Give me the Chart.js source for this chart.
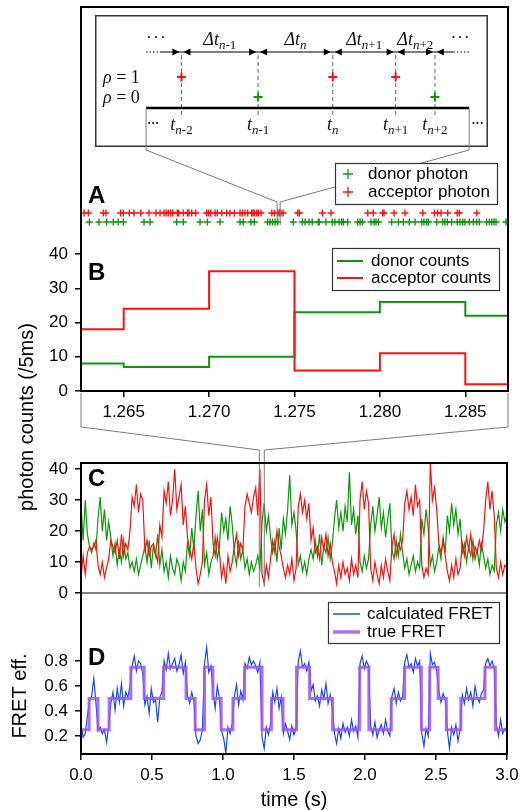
<!DOCTYPE html>
<html>
<head>
<meta charset="utf-8">
<script src="https://cdn.jsdelivr.net/npm/chart.js@4.4.1/dist/chart.umd.min.js"></script>
<style>
  body { margin: 0; background: #fff; }
  #wrap { position: relative; width: 525px; height: 810px; overflow: hidden; background: #fff; }
  canvas { position: absolute; }
</style>
</head>
<body>
<div id="wrap">
  <canvas id="cInset" width="393" height="132" style="left:95px;top:15px"></canvas>
  <canvas id="cA" width="525" height="85" style="left:0;top:150px"></canvas>
  <canvas id="cB" width="525" height="208" style="left:0;top:222px"></canvas>
  <canvas id="cC" width="525" height="166" style="left:0;top:445px"></canvas>
  <canvas id="cD" width="525" height="235" style="left:0;top:575px"></canvas>
  <canvas id="over" width="525" height="810" style="left:0;top:0;z-index:5"></canvas>
</div>
<script>
// ---------- data ----------
const binWidth = 0.015; // s per point in C and D

const donorTrace = [
  28, 17, 30, 19, 15, 13, 16, 14, 24, 31, 20, 27, 17, 23,
  18, 12, 16, 9, 14, 10, 17, 11, 13, 8, 10, 7, 11, 6, 9, 12,
  15, 10, 17, 8, 15, 12, 19, 9, 14, 7, 10, 5, 12, 8, 6, 11, 9, 4, 10, 7,
  16, 12, 21, 14, 25, 33, 20, 27, 9, 13, 6, 10, 12, 18, 11, 15,
  26, 20, 24, 17, 28, 22, 13, 9, 17, 11, 14, 8, 11, 6, 10, 7, 9, 12, 8,
  23, 29, 20, 25, 18, 13, 17, 10, 21, 14, 24, 19, 27, 38, 22, 26, 20,
  9, 12, 7, 10, 6, 11, 14, 11, 17, 12, 19, 9, 15, 13, 18, 11, 16,
  24, 30, 21, 26, 20, 28, 23, 39, 22, 27, 19, 25, 10, 7, 12, 8, 11,
  22, 28, 20, 25, 31, 21, 26, 18, 24, 29, 14, 11, 17, 12, 19, 13,
  8, 11, 6, 9, 12, 7, 10, 8, 24, 19, 27, 21, 9, 12, 7, 10, 15, 11, 18, 13,
  25, 20, 29, 22, 27, 19, 24, 13, 16, 10, 15, 12, 17, 11, 14, 9, 16, 12,
  8, 11, 6, 9, 7, 22, 26, 20, 27, 23, 25
];
const acceptorTrace = [
  5, 12, 6, 13, 15, 14, 15, 17, 9, 6, 10, 5, 8, 11,
  17, 15, 13, 17, 11, 19, 12, 16, 14, 20, 31, 28, 35, 26, 32, 30,
  14, 17, 12, 15, 16, 13, 10, 22, 18, 33, 29, 36, 25, 30, 40, 27, 31, 35, 22, 28,
  18, 14, 11, 16, 8, 3, 6, 10, 30, 35, 25, 31, 16, 12, 18, 13,
  5, 9, 3, 12, 7, 10, 15, 19, 12, 16, 14, 28, 32, 29, 26, 31, 34, 25, 40,
  6, 3, 9, 5, 11, 17, 13, 20, 15, 12, 8, 5, 9, 6, 11, 4, 8,
  28, 32, 26, 30, 24, 29, 17, 21, 13, 15, 11, 18, 14, 19, 12, 16, 10,
  7, 3, 9, 5, 10, 6, 8, 4, 11, 6, 9, 5, 30, 36, 27, 33, 29,
  8, 4, 10, 6, 3, 9, 5, 11, 7, 4, 15, 19, 12, 16, 14, 17,
  29, 33, 27, 31, 25, 35, 28, 30, 9, 5, 8, 6, 42, 30, 34, 27, 16, 13, 17, 12,
  7, 4, 9, 5, 11, 6, 8, 16, 12, 18, 14, 19, 11, 15, 13, 17, 14, 20,
  30, 36, 27, 33, 25, 8, 5, 10, 6, 9, 8
];
const calcFret = [
  0.30, 0.19, 0.22, 0.36, 0.48, 0.52, 0.66, 0.47, 0.24, 0.27, 0.22, 0.25, 0.15, 0.28,
  0.46, 0.55, 0.41, 0.58, 0.47, 0.62, 0.44, 0.55, 0.51, 0.60, 0.76, 0.84, 0.72, 0.80, 0.78, 0.70,
  0.45, 0.52, 0.38, 0.58, 0.47, 0.49, 0.31, 0.51, 0.55, 0.80, 0.73, 0.86, 0.74, 0.78, 0.82, 0.72, 0.77, 0.85, 0.70, 0.79,
  0.52, 0.46, 0.55, 0.48, 0.20, 0.14, 0.17, 0.25, 0.78, 0.91, 0.71, 0.76, 0.55, 0.42, 0.60, 0.50,
  0.24, 0.18, 0.06, 0.27, 0.22, 0.30, 0.52, 0.61, 0.45, 0.56, 0.49, 0.78, 0.74, 0.83, 0.77, 0.80, 0.76, 0.71, 0.79,
  0.19, 0.10, 0.27, 0.21, 0.30, 0.55, 0.47, 0.58, 0.42, 0.51, 0.22, 0.30, 0.24, 0.17, 0.28, 0.21, 0.26,
  0.80, 0.88, 0.75, 0.78, 0.72, 0.79, 0.56, 0.61, 0.48, 0.52, 0.44, 0.57, 0.50, 0.62, 0.46, 0.53, 0.43,
  0.22, 0.14, 0.26, 0.18, 0.30, 0.23, 0.27, 0.20, 0.33, 0.24, 0.28, 0.19, 0.78, 0.84, 0.74, 0.80, 0.76,
  0.28, 0.21, 0.31, 0.19, 0.25, 0.29, 0.22, 0.33, 0.24, 0.20, 0.52, 0.58, 0.46, 0.55, 0.48, 0.51,
  0.79, 0.85, 0.75, 0.78, 0.71, 0.82, 0.76, 0.80, 0.22, 0.12, 0.26, 0.20, 0.86, 0.77, 0.79, 0.72,
  0.56, 0.47, 0.54, 0.49, 0.24, 0.10, 0.27, 0.21, 0.29, 0.16, 0.25,
  0.53, 0.46, 0.58, 0.49, 0.55, 0.44, 0.60, 0.51, 0.47, 0.54, 0.57,
  0.78, 0.82, 0.76, 0.80, 0.74, 0.29, 0.20, 0.33, 0.22, 0.26, 0.24
];

const trueFretStart = [0, 0.057, 0.12, 0.198, 0.351, 0.445, 0.582, 0.74, 0.804, 0.87, 0.929,
  0.987, 1.07, 1.152, 1.275, 1.341, 1.423, 1.518, 1.61, 1.772, 1.963, 2.027, 2.185, 2.279,
  2.397, 2.456, 2.515, 2.573, 2.675, 2.845, 2.918];
const trueFretLevel = [0.25, 0.5, 0.25, 0.5, 0.75, 0.5, 0.75, 0.5, 0.25, 0.75, 0.5,
  0.25, 0.5, 0.75, 0.25, 0.5, 0.25, 0.75, 0.5, 0.25, 0.75, 0.25, 0.5, 0.75,
  0.25, 0.75, 0.5, 0.25, 0.5, 0.75, 0.25];
const traceEnd = 3.0;

const binStartsB = [1.260, 1.265, 1.270, 1.275, 1.280, 1.285];
const binEndB = 1.290;
const donorCountsB = [8, 7, 10, 23, 26, 22];
const acceptorCountsB = [18, 24, 35, 6, 11, 2];

const acceptorPhotonsMs = [1262.68, 1262.93, 1263.81, 1263.96, 1264.82, 1264.98, 1265.33, 1265.60,
  1266.00, 1266.48, 1266.89, 1267.13, 1267.36, 1267.48, 1267.61, 1267.75, 1267.87, 1268.14, 1268.22,
  1268.49, 1268.73, 1268.82, 1268.98, 1269.22, 1269.86, 1269.96, 1270.09, 1270.35, 1270.48, 1270.74,
  1271.03, 1271.22, 1271.48, 1271.81, 1271.95, 1272.10, 1272.26, 1272.49, 1272.57, 1272.65, 1272.79,
  1272.88, 1273.04, 1273.67, 1273.82, 1274.02, 1274.11, 1274.21, 1274.33, 1275.19, 1275.28, 1276.63,
  1277.14, 1279.29, 1279.61, 1280.16, 1280.24, 1280.83, 1281.47, 1282.51, 1283.19, 1283.38, 1283.58,
  1283.97, 1284.53, 1284.65, 1285.67];
const donorPhotonsMs = [1262.99, 1263.55, 1264.00, 1264.39, 1264.68, 1264.98, 1266.19, 1266.54,
  1268.10, 1268.49, 1269.47, 1269.90, 1270.64, 1271.81, 1272.00, 1272.45, 1272.65, 1273.43, 1273.57,
  1273.72, 1273.86, 1274.02, 1274.93, 1275.46, 1275.62, 1275.85, 1276.04, 1276.39, 1276.45, 1276.84,
  1277.21, 1277.37, 1277.61, 1277.76, 1277.86, 1278.11, 1278.70, 1278.84, 1278.97, 1279.48, 1279.66,
  1279.77, 1279.91, 1280.69, 1281.08, 1281.37, 1281.72, 1282.06, 1282.45, 1282.58, 1282.74, 1282.84,
  1283.33, 1283.68, 1283.81, 1283.95, 1284.20, 1284.53, 1284.69, 1284.85, 1284.98, 1285.23, 1285.47,
  1285.67, 1285.82, 1286.25, 1286.41, 1286.55, 1286.68, 1286.80, 1287.38];

// schematic photon stream of the inset
const insetTimes = [2.2, 4.15, 6.05, 7.65, 8.65];
const insetRho = [1, 0, 1, 1, 0];
const insetTimeSub = ['n-2', 'n-1', 'n', 'n+1', 'n+2'];
const insetGapSub = ['n-1', 'n', 'n+1', 'n+2'];
const insetLineEnds = [1.3, 9.52];

const zoomWindowA = [1273.98, 1274.16]; // ms, marked on A
const zoomWindowC = [1.2556, 1.2908];   // s, marked on C

const ticksBx = [1.265, 1.270, 1.275, 1.280, 1.285];
const ticksCounts = [0, 10, 20, 30, 40];
const ticksFret = [0.2, 0.4, 0.6, 0.8];
const ticksTime = [0, 0.5, 1.0, 1.5, 2.0, 2.5, 3.0];

// ---------- style ----------
const GREEN = '#0b990b';
const RED = '#ff1010';
const BLUE = '#1846ff';
const PURPLE = 'rgba(160, 85, 238, 0.85)';
const GRAY = '#7a7a7a';
const SANS = '"Liberation Sans", Arial, sans-serif';
const SERIF = '"Liberation Serif", "Times New Roman", serif';

Chart.defaults.font.family = SANS;
Chart.defaults.font.size = 17;
Chart.defaults.color = '#000';

const baseOpts = {
  responsive: false,
  animation: false,
  events: [],
  plugins: { legend: { display: false }, tooltip: { enabled: false } }
};

function tickGrid() {
  return { display: true, drawOnChartArea: false, drawTicks: true, tickLength: 6, color: '#000', lineWidth: 1.5 };
}
function fixTicks(values) {
  return scale => { scale.ticks = values.map(v => ({ value: v })); };
}
const series = arr => arr.map((v, i) => ({ x: i * binWidth, y: v }));
const steps = (starts, vals, end) =>
  starts.map((t, i) => ({ x: t, y: vals[i] })).concat({ x: end, y: vals[vals.length - 1] });

// ---------- inset ----------
function richText(ctx, parts, cx, y) {
  let w = 0;
  parts.forEach(p => { ctx.font = p[1]; p.w = ctx.measureText(p[0]).width; w += p.w; });
  let xx = cx - w / 2;
  ctx.textAlign = 'left';
  ctx.textBaseline = 'alphabetic';
  parts.forEach(p => { ctx.font = p[1]; ctx.fillText(p[0], xx, y + p[2]); xx += p.w; });
}
function subParts(sub) {
  const parts = [['n', 'italic 13px ' + SERIF, 4]];
  if (sub.length > 1) parts.push([sub.slice(1), '13px ' + SERIF, 4]);
  return parts;
}
function arrowHead(ctx, x, y, dir) {
  ctx.beginPath();
  ctx.moveTo(x, y);
  ctx.lineTo(x - dir * 7, y - 3.5);
  ctx.lineTo(x - dir * 7, y + 3.5);
  ctx.closePath();
  ctx.fill();
}
function dots(ctx, xs, y) {
  xs.forEach(px => { ctx.beginPath(); ctx.arc(px, y, 1.1, 0, Math.PI * 2); ctx.fill(); });
}

const insetDecor = {
  id: 'insetDecor',
  beforeDatasetsDraw(chart) {
    const { ctx, chartArea: a, scales: { x, y } } = chart;
    const xs = insetTimes.map(t => x.getPixelForValue(t));
    const yArrow = y.getPixelForValue(2.25);
    const yBase = y.getPixelForValue(-0.55);
    ctx.save();
    ctx.strokeStyle = '#333';
    ctx.lineWidth = 1.5;
    ctx.strokeRect(a.left + 0.75, a.top + 0.75, a.width - 1.5, a.height - 1.5);

    // dashed guides
    ctx.setLineDash([4, 3]);
    ctx.strokeStyle = '#666';
    ctx.lineWidth = 1;
    xs.forEach(px => {
      ctx.beginPath(); ctx.moveTo(px, yArrow + 3); ctx.lineTo(px, y.getPixelForValue(-0.9)); ctx.stroke();
    });

    // interval arrows
    const xl0 = x.getPixelForValue(insetLineEnds[0]);
    const xl1 = x.getPixelForValue(insetLineEnds[1]);
    const xd0 = x.getPixelForValue(1.65);
    const xd1 = x.getPixelForValue(9.12);
    ctx.strokeStyle = '#000';
    ctx.setLineDash([1.5, 2]);
    ctx.beginPath(); ctx.moveTo(xl0, yArrow); ctx.lineTo(xd0, yArrow);
    ctx.moveTo(xd1, yArrow); ctx.lineTo(xl1, yArrow); ctx.stroke();
    ctx.setLineDash([]);
    ctx.lineWidth = 1.2;
    ctx.beginPath(); ctx.moveTo(xd0, yArrow); ctx.lineTo(xd1, yArrow); ctx.stroke();
    ctx.fillStyle = '#000';
    xs.forEach(px => { arrowHead(ctx, px - 2, yArrow, 1); arrowHead(ctx, px + 2, yArrow, -1); });

    // gap labels
    ctx.fillStyle = '#111';
    insetGapSub.forEach((s, i) => {
      const cx = (xs[i] + xs[i + 1]) / 2;
      richText(ctx, [['\u0394t', 'italic 18px ' + SERIF, 0]].concat(subParts(s)), cx, y.getPixelForValue(2.6));
    });
    dots(ctx, [1.37, 1.55, 1.73].map(v => x.getPixelForValue(v)), y.getPixelForValue(3.0));
    dots(ctx, [9.12, 9.29, 9.46].map(v => x.getPixelForValue(v)), y.getPixelForValue(3.0));

    // rho labels
    ctx.textAlign = 'left';
    ctx.textBaseline = 'middle';
    [[1, '1'], [0, '0']].forEach(([v, t]) => {
      const py = y.getPixelForValue(v) + 1;
      ctx.font = 'italic 18px ' + SERIF;
      ctx.fillText('\u03c1', a.left + 8, py);
      const w = ctx.measureText('\u03c1').width;
      ctx.font = '18px ' + SERIF;
      ctx.fillText(' = ' + t, a.left + 8 + w, py);
    });

    // time axis
    ctx.lineWidth = 2.5;
    ctx.strokeStyle = '#000';
    ctx.beginPath(); ctx.moveTo(xl0, yBase); ctx.lineTo(xl1, yBase); ctx.stroke();
    insetTimeSub.forEach((s, i) => {
      richText(ctx, [['t', 'italic 18px ' + SERIF, 0]].concat(subParts(s)), xs[i], y.getPixelForValue(-1.65));
    });
    dots(ctx, [1.38, 1.48, 1.58].map(v => x.getPixelForValue(v)), y.getPixelForValue(-1.3));
    dots(ctx, [9.63, 9.73, 9.84].map(v => x.getPixelForValue(v)), y.getPixelForValue(-1.3));
    ctx.restore();
  }
};

const chartInset = new Chart(document.getElementById('cInset'), {
  type: 'scatter',
  data: {
    datasets: [
      { data: insetTimes.filter((t, i) => insetRho[i] === 1).map(t => ({ x: t, y: 1 })),
        pointStyle: 'cross', pointRadius: 4.5, borderColor: RED, borderWidth: 2 },
      { data: insetTimes.filter((t, i) => insetRho[i] === 0).map(t => ({ x: t, y: 0 })),
        pointStyle: 'cross', pointRadius: 4.5, borderColor: GREEN, borderWidth: 2 }
    ]
  },
  options: {
    ...baseOpts,
    layout: { padding: 0, autoPadding: false },
    scales: {
      x: { type: 'linear', display: false, min: 0, max: 10 },
      y: { type: 'linear', display: false, min: -2.5, max: 4.1 }
    }
  },
  plugins: [insetDecor]
});

// ---------- A: photon arrivals ----------
const chartA = new Chart(document.getElementById('cA'), {
  type: 'scatter',
  data: {
    datasets: [
      { label: 'acceptor photon', data: acceptorPhotonsMs.map(t => ({ x: t, y: 1 })),
        pointStyle: 'cross', pointRadius: 3.5, borderColor: RED, borderWidth: 1.4 },
      { label: 'donor photon', data: donorPhotonsMs.map(t => ({ x: t, y: 0 })),
        pointStyle: 'cross', pointRadius: 3.5, borderColor: GREEN, borderWidth: 1.4 }
    ]
  },
  options: {
    ...baseOpts,
    layout: { padding: { left: 81, right: 17, top: 0, bottom: 0 }, autoPadding: false },
    scales: {
      x: { type: 'linear', display: false, min: 1262.5, max: 1287.5 },
      y: { type: 'linear', display: false, min: -1.444, max: 8 }
    }
  }
});

// ---------- B: binned counts ----------
const chartB = new Chart(document.getElementById('cB'), {
  type: 'line',
  data: {
    datasets: [
      { label: 'acceptor counts', data: steps(binStartsB, acceptorCountsB, binEndB),
        borderColor: RED, borderWidth: 2, pointRadius: 0, stepped: 'before' },
      { label: 'donor counts', data: steps(binStartsB, donorCountsB, binEndB),
        borderColor: GREEN, borderWidth: 2, pointRadius: 0, stepped: 'before' }
    ]
  },
  options: {
    ...baseOpts,
    layout: { padding: { left: 0, right: 17, top: 18, bottom: 0 }, autoPadding: false },
    scales: {
      x: {
        type: 'linear', min: 1.2625, max: 1.2875,
        afterBuildTicks: fixTicks(ticksBx),
        afterFit: s => { s.height = 39; },
        grid: tickGrid(), border: { display: false },
        ticks: { padding: 5, maxRotation: 0, callback: v => v.toFixed(3) }
      },
      y: {
        type: 'linear', min: 0, max: 44.1,
        afterBuildTicks: fixTicks(ticksCounts),
        afterFit: s => { s.width = 81; },
        grid: tickGrid(), border: { display: false },
        ticks: { padding: 7 }
      }
    }
  }
});

// ---------- C: photon count traces ----------
const chartC = new Chart(document.getElementById('cC'), {
  type: 'line',
  data: {
    datasets: [
      { label: 'acceptor', data: series(acceptorTrace), borderColor: RED, borderWidth: 1.2, pointRadius: 0 },
      { label: 'donor', data: series(donorTrace), borderColor: GREEN, borderWidth: 1.2, pointRadius: 0 }
    ]
  },
  options: {
    ...baseOpts,
    layout: { padding: { left: 0, right: 18, top: 18, bottom: 18 }, autoPadding: false },
    scales: {
      x: { type: 'linear', display: false, min: 0, max: 3 },
      y: {
        type: 'linear', min: 0, max: 42,
        afterBuildTicks: fixTicks(ticksCounts),
        afterFit: s => { s.width = 81; },
        grid: tickGrid(), border: { display: false },
        ticks: { padding: 7 }
      }
    }
  }
});

// ---------- D: FRET efficiency ----------
const chartD = new Chart(document.getElementById('cD'), {
  type: 'line',
  data: {
    datasets: [
      { label: 'true FRET', data: steps(trueFretStart, trueFretLevel, traceEnd),
        borderColor: PURPLE, borderWidth: 3, pointRadius: 0, stepped: 'before' },
      { label: 'calculated FRET', data: series(calcFret), borderColor: BLUE, borderWidth: 1.2, pointRadius: 0 }
    ]
  },
  options: {
    ...baseOpts,
    layout: { padding: { left: 0, right: 18, top: 18, bottom: 0 }, autoPadding: false },
    scales: {
      x: {
        type: 'linear', min: 0, max: 3,
        afterBuildTicks: fixTicks(ticksTime),
        afterFit: s => { s.height = 56; },
        grid: tickGrid(), border: { display: false },
        ticks: { padding: 5, maxRotation: 0, callback: v => v.toFixed(1) },
        title: { display: true, text: 'time (s)', font: { size: 20, lineHeight: 1 }, padding: { top: 0, bottom: 0 } }
      },
      y: {
        type: 'linear', min: 0.056, max: 1.344,
        afterBuildTicks: fixTicks(ticksFret),
        afterFit: s => { s.width = 81; },
        grid: tickGrid(), border: { display: false },
        ticks: { padding: 7, callback: v => v.toFixed(1) }
      }
    }
  }
});

// ---------- overlay: frames, zoom brackets, legends, labels ----------
function legendBox(ctx, x0, y0, x1, y1) {
  ctx.fillStyle = '#fff';
  ctx.fillRect(x0, y0, x1 - x0, y1 - y0);
  ctx.strokeStyle = '#333';
  ctx.lineWidth = 1.2;
  ctx.strokeRect(x0 + 0.5, y0 + 0.5, x1 - x0, y1 - y0);
}
function legendText(ctx, text, x, y) {
  ctx.fillStyle = '#000';
  ctx.font = '17px ' + SANS;
  ctx.textAlign = 'left';
  ctx.textBaseline = 'middle';
  ctx.fillText(text, x, y);
}
function legendLine(ctx, color, w, x0, x1, y) {
  ctx.strokeStyle = color; ctx.lineWidth = w;
  ctx.beginPath(); ctx.moveTo(x0, y); ctx.lineTo(x1, y); ctx.stroke();
}
function legendCross(ctx, color, x, y) {
  ctx.strokeStyle = color; ctx.lineWidth = 1.3;
  ctx.beginPath(); ctx.moveTo(x - 5, y); ctx.lineTo(x + 5, y); ctx.moveTo(x, y - 5); ctx.lineTo(x, y + 5); ctx.stroke();
}

function drawOverlay() {
  const ctx = document.getElementById('over').getContext('2d');
  const offB = 222, offC = 445, offD = 575, offIx = 95, offIy = 15;
  const bA = chartB.chartArea, cA = chartC.chartArea, dA = chartD.chartArea;

  // zoom bracket: inset <- A
  ctx.strokeStyle = GRAY;
  ctx.lineWidth = 1;
  const ix = chartInset.scales.x, iy = chartInset.scales.y, ax = chartA.scales.x;
  const baseY = iy.getPixelForValue(-0.55) + offIy;
  ctx.beginPath();
  [0, 1].forEach(k => {
    const x0 = ix.getPixelForValue(insetLineEnds[k]) + offIx;
    const x1 = ax.getPixelForValue(zoomWindowA[k]);
    ctx.moveTo(x0, baseY); ctx.lineTo(x0, 150); ctx.lineTo(x1, 202); ctx.lineTo(x1, 225);
  });
  ctx.stroke();

  // zoom bracket: B <- C
  const cx = chartC.scales.x, cy = chartC.scales.y;
  const bBot = bA.bottom + offB;
  ctx.beginPath();
  [[bA.left, zoomWindowC[0]], [bA.right, zoomWindowC[1]]].forEach(([xb, t]) => {
    const xc = cx.getPixelForValue(t);
    ctx.moveTo(xb, bBot + 2); ctx.lineTo(xb, 427); ctx.lineTo(xc, 450); ctx.lineTo(xc, cy.getPixelForValue(2) + offC);
  });
  ctx.stroke();

  // frames
  ctx.strokeStyle = '#000';
  ctx.lineWidth = 2;
  ctx.strokeRect(bA.left, 7, bA.right - bA.left, bBot - 7);
  const cTop = cA.top + offC, cBot = cA.bottom + offC;
  ctx.beginPath(); ctx.moveTo(cA.left, cBot); ctx.lineTo(cA.left, cTop); ctx.lineTo(cA.right, cTop); ctx.lineTo(cA.right, cBot); ctx.stroke();
  const dBot = dA.bottom + offD;
  ctx.beginPath(); ctx.moveTo(dA.left, cBot); ctx.lineTo(dA.left, dBot); ctx.lineTo(dA.right, dBot); ctx.lineTo(dA.right, cBot); ctx.stroke();
  ctx.lineWidth = 1;
  ctx.beginPath(); ctx.moveTo(cA.left, cBot); ctx.lineTo(cA.right, cBot); ctx.stroke();

  // legends
  legendBox(ctx, 335, 163, 497, 204);
  legendCross(ctx, GREEN, 348, 174); legendText(ctx, 'donor photon', 368, 174);
  legendCross(ctx, RED, 348, 192); legendText(ctx, 'acceptor photon', 368, 192);

  legendBox(ctx, 332, 248, 499, 290);
  legendLine(ctx, GREEN, 2, 337, 363, 261); legendText(ctx, 'donor counts', 371, 261);
  legendLine(ctx, RED, 2, 337, 363, 278); legendText(ctx, 'acceptor counts', 371, 278);

  legendBox(ctx, 328, 602, 499, 643);
  legendLine(ctx, BLUE, 1.5, 333, 360, 614); legendText(ctx, 'calculated FRET', 367, 614);
  legendLine(ctx, PURPLE, 3.5, 333, 360, 632); legendText(ctx, 'true FRET', 367, 632);

  // panel letters
  ctx.fillStyle = '#000';
  ctx.font = 'bold 24px ' + SANS;
  ctx.textAlign = 'left';
  ctx.textBaseline = 'alphabetic';
  [['A', 203], ['B', 280], ['C', 486], ['D', 665]].forEach(([t, y]) => ctx.fillText(t, 88, y));

  // rotated axis titles
  ctx.font = '20px ' + SANS;
  ctx.textAlign = 'center';
  ctx.textBaseline = 'middle';
  [['photon counts (/5ms)', 27, 417], ['FRET eff.', 20, 696]].forEach(([t, x, y]) => {
    ctx.save(); ctx.translate(x, y); ctx.rotate(-Math.PI / 2); ctx.fillText(t, 0, 0); ctx.restore();
  });
}

drawOverlay();
</script>
</body>
</html>
